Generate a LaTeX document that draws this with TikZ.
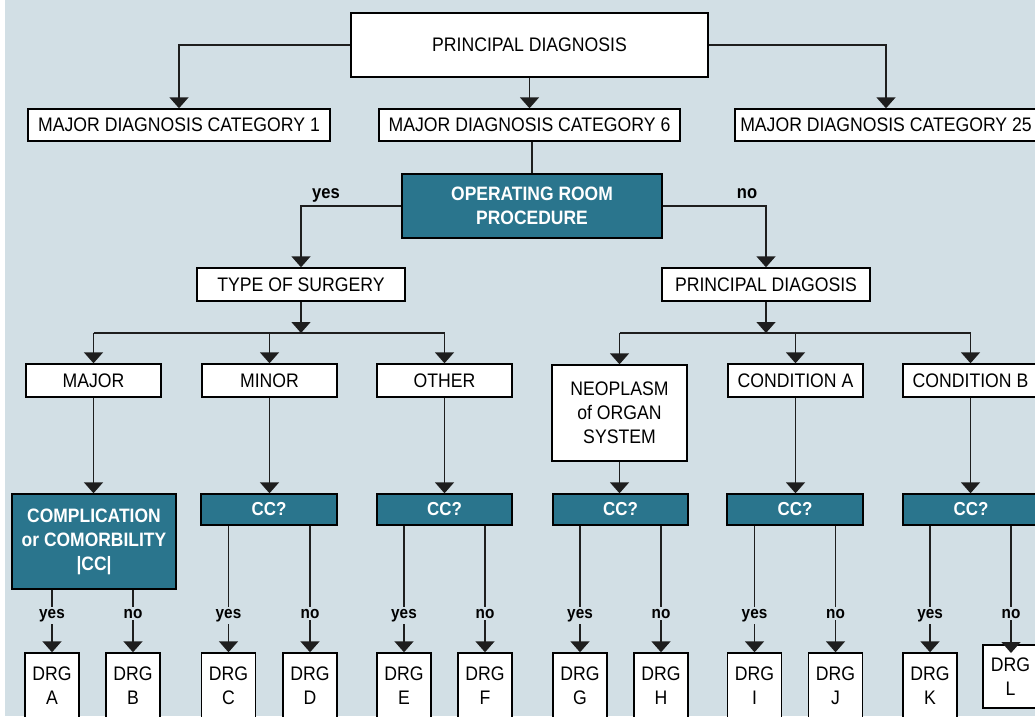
\documentclass[tikz,border=0pt]{standalone}
\usepackage{fontspec}
\setmainfont{Liberation Sans}[FakeStretch=0.9]
\usetikzlibrary{arrows.meta}
\definecolor{bg}{HTML}{D2DFE5}
\definecolor{tealbox}{HTML}{2A758D}
\definecolor{linec}{HTML}{1E1E1E}
\newcommand\boxfont{\fontsize{19.6}{24}\selectfont}
\newcommand\boldboxfont{\fontsize{19.4}{24}\selectfont\bfseries}
\newcommand\ccfont{\fontsize{18.8}{24}\selectfont\bfseries}
\newcommand\lblfont{\fontsize{17}{20}\selectfont\bfseries}
\newcommand\toplblfont{\fontsize{18.4}{22}\selectfont\bfseries}
\tikzset{
  box/.style={draw=black, line width=1.4pt, fill=white, inner sep=0pt,
    align=center, font=\boxfont, text=black},
  darkbox/.style={box, fill=tealbox, text=white, font=\boldboxfont},
  ccbox/.style={darkbox, font=\ccfont, minimum height=31pt},
  drg/.style={box, minimum width=54pt, minimum height=65pt},
  conn/.style={line width=1.5pt, draw=linec},
  arr/.style={conn, -{Triangle[width=19pt,length=11pt]}},
  lbl/.style={font=\lblfont, fill=bg, inner sep=2pt, anchor=base, text=black},
  toplbl/.style={font=\toplblfont, inner sep=0pt, anchor=base, text=black}
}
\begin{document}
\begin{tikzpicture}[x=1pt, y=-1pt]
\useasboundingbox (0,0) rectangle (1035,716);
\fill[white] (0,0) rectangle (5,716);
\fill[bg] (5,0) rectangle (1035,716);

% top level
\node[box, minimum width=357pt, minimum height=64pt] (pd) at (529.5,45) {PRINCIPAL DIAGNOSIS};
\node[box, minimum width=302pt, minimum height=32pt] (mdc1) at (179,125) {MAJOR DIAGNOSIS CATEGORY 1};
\node[box, minimum width=301pt, minimum height=32pt] (mdc6) at (529.5,125) {MAJOR DIAGNOSIS CATEGORY 6};
\node[box, minimum width=302pt, minimum height=32pt] (mdc25) at (886,125) {MAJOR DIAGNOSIS CATEGORY 25};

\node[darkbox, minimum width=260pt, minimum height=64pt] (orp) at (532,206) {OPERATING ROOM\\PROCEDURE};

\node[box, minimum width=208pt, minimum height=33pt] (tos) at (301,284.5) {TYPE OF SURGERY};
\node[box, minimum width=208pt, minimum height=33pt] (pd2) at (766,284.5) {PRINCIPAL DIAGOSIS};

% second level
\node[box, minimum width=135pt, minimum height=33pt] (major) at (93.5,380.5) {MAJOR};
\node[box, minimum width=135pt, minimum height=33pt] (minor) at (269.5,380.5) {MINOR};
\node[box, minimum width=135pt, minimum height=33pt] (other) at (444.5,380.5) {OTHER};
\node[box, minimum width=135pt, minimum height=96pt] (neo) at (619.5,413) {NEOPLASM\\of ORGAN\\SYSTEM};
\node[box, minimum width=135pt, minimum height=33pt] (condA) at (795.5,380.5) {CONDITION A};
\node[box, minimum width=135pt, minimum height=33pt] (condB) at (970.5,380.5) {CONDITION B};

% complication tests
\node[darkbox, minimum width=164pt, minimum height=95pt] (cc1) at (94,541.5) {COMPLICATION\\or COMORBILITY\\|CC|};
\node[ccbox, minimum width=136pt] (ccMinor) at (269,509.5) {CC?};
\node[ccbox, minimum width=135pt] (ccOther) at (444.5,509.5) {CC?};
\node[ccbox, minimum width=135pt] (ccNeo) at (620.5,509.5) {CC?};
\node[ccbox, minimum width=136pt] (ccA) at (795,509.5) {CC?};
\node[ccbox, minimum width=136pt] (ccB) at (971,509.5) {CC?};

% diagnosis related groups
\node[drg] (drgA) at (52,685.5) {DRG\\A};
\node[drg] (drgB) at (133,685.5) {DRG\\B};
\node[drg] (drgC) at (228.5,685.5) {DRG\\C};
\node[drg] (drgD) at (310,685.5) {DRG\\D};
\node[drg] (drgE) at (404,685.5) {DRG\\E};
\node[drg] (drgF) at (485,685.5) {DRG\\F};
\node[drg] (drgG) at (580,685.5) {DRG\\G};
\node[drg] (drgH) at (661,685.5) {DRG\\H};
\node[drg] (drgI) at (754.5,685.5) {DRG\\I};
\node[drg] (drgJ) at (835.5,685.5) {DRG\\J};
\node[drg] (drgK) at (930,685.5) {DRG\\K};
\node[box, minimum width=55pt, minimum height=63pt] (drgL) at (1010.5,676.5) {DRG\\L};

% connectors from the principal diagnosis
\draw[arr] (pd.west) -| (mdc1.north);
\draw[arr] (pd.south) -- (mdc6.north);
\draw[arr] (pd.east) -| (mdc25.north);
\draw[conn] (orp.north |- mdc6.south) -- (orp.north);

% operating room branches
\draw[arr] (orp.west) -| (tos.north);
\draw[arr] (orp.east) -| (pd2.north);
\node[toplbl] (yesTop) at (326,198) {yes};
\node[toplbl] (noTop) at (747,198) {no};

% surgery bar
\coordinate (sbar) at (301,333);
\draw[arr] (tos.south) -- (sbar);
\draw[conn] (major.north |- sbar) -- (other.north |- sbar);
\draw[arr] (major.north |- sbar) -- (major.north);
\draw[arr] (minor.north |- sbar) -- (minor.north);
\draw[arr] (other.north |- sbar) -- (other.north);

% diagnosis bar
\coordinate (dbar) at (766,333);
\draw[arr] (pd2.south) -- (dbar);
\draw[conn] (neo.north |- dbar) -- (condB.north |- dbar);
\draw[arr] (neo.north |- dbar) -- (neo.north);
\draw[arr] (condA.north |- dbar) -- (condA.north);
\draw[arr] (condB.north |- dbar) -- (condB.north);

% down to the complication tests
\draw[arr] (major.south) -- (major.south |- cc1.north);
\draw[arr] (minor.south) -- (minor.south |- ccMinor.north);
\draw[arr] (other.south) -- (other.south |- ccOther.north);
\draw[arr] (neo.south) -- (neo.south |- ccNeo.north);
\draw[arr] (condA.south) -- (condA.south |- ccA.north);
\draw[arr] (condB.south) -- (condB.south |- ccB.north);

% yes / no branches to the groups
\foreach \src/\dst in {cc1/drgA, cc1/drgB, ccMinor/drgC, ccMinor/drgD,
  ccOther/drgE, ccOther/drgF, ccNeo/drgG, ccNeo/drgH,
  ccA/drgI, ccA/drgJ, ccB/drgK}
  \draw[arr] (\dst.north |- \src.south) -- (\dst.north);
\coordinate (lTip) at (1011,653);
\draw[arr] (lTip |- ccB.south) -- (lTip);

\foreach \x/\t in {52/yes, 133/no, 228.5/yes, 310/no, 404/yes, 485/no,
  580/yes, 661/no, 754.5/yes, 835.5/no, 930/yes, 1011/no}
  \node[lbl] at (\x,618) {\t};
\end{tikzpicture}
\end{document}
